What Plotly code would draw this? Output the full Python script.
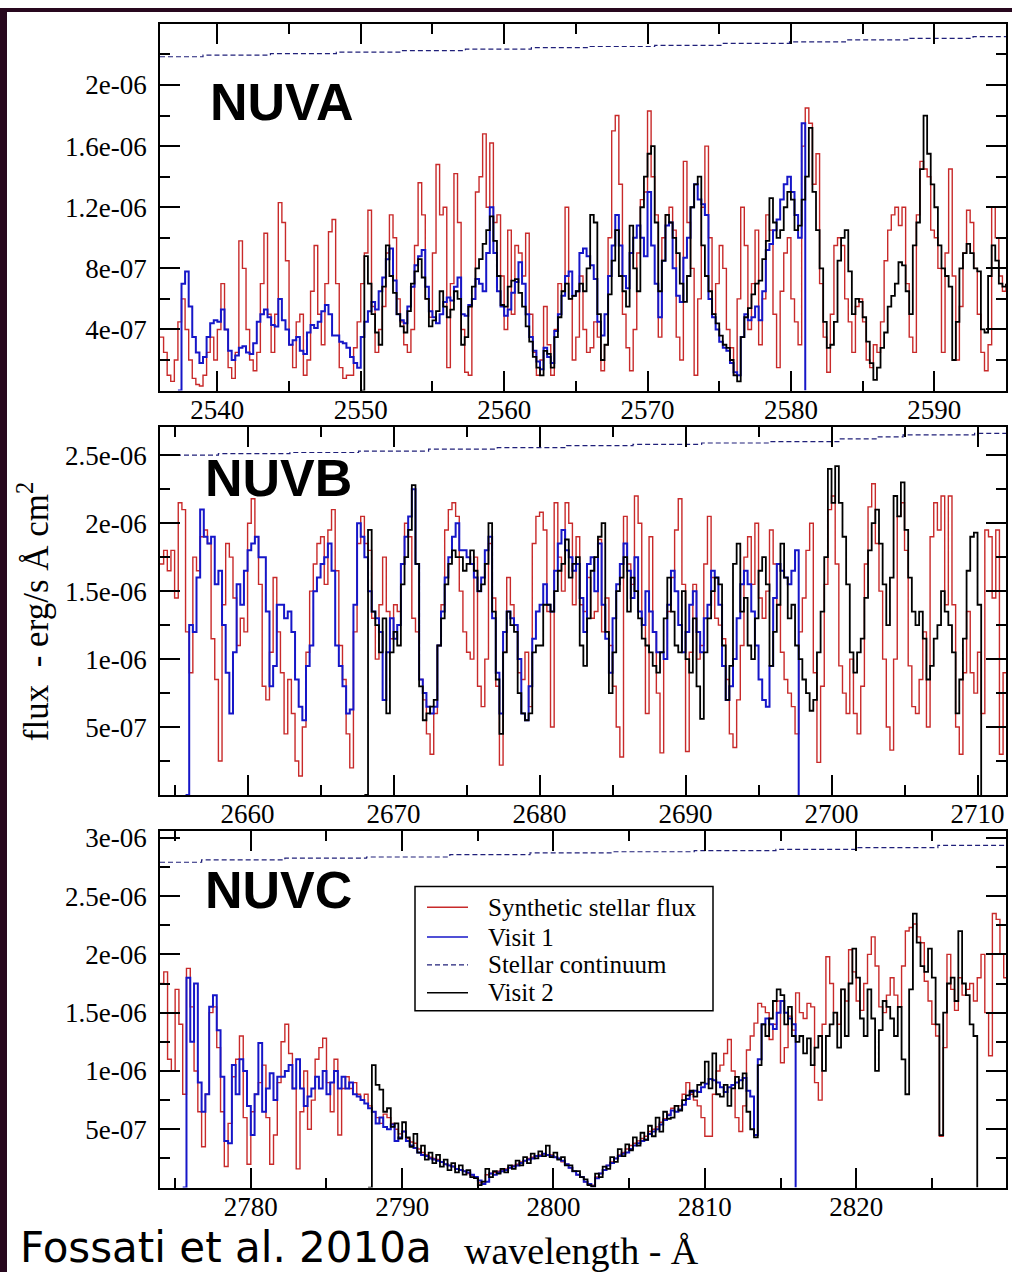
import plotly.graph_objects as go

W, H = 1012, 1272
FLUX_UNIT = 1e-7   # tabulated fluxes are in units of 1e-7 erg/s/A/cm2
STEP = 0.25        # wavelength bin of the tabulated spectra (A)

# ---------------- NUVA ----------------
NUVA_SYN_START = 2536.0
NUVA_SYN = [
    3.5, 2.5, 1.0, 0.6, 2.0, 4.5, 6.0, 4.0, 2.0, 0.8,
    0.4, 0.3, 1.0, 2.5, 3.5, 2.0, 4.0, 7.0, 4.0, 1.5,
    0.8, 2.5, 9.8, 8.0, 4.0, 2.0, 1.3, 2.5, 7.0, 10.3,
    5.0, 2.5, 5.0, 12.3, 11.0, 8.5, 3.0, 1.5, 4.5, 5.0,
    1.0, 2.0, 6.5, 9.5, 5.0, 3.0, 7.0, 10.4, 11.2, 7.0,
    1.5, 0.8, 1.0, 1.0, 2.8, 4.5, 7.0, 9.0, 11.8, 5.5,
    2.5, 4.0, 5.5, 9.0, 11.5, 10.0, 6.0, 4.5, 3.0, 2.5,
    4.0, 9.5, 13.6, 11.5, 6.0, 4.8, 9.0, 14.8, 11.5, 12.0,
    1.5, 7.0, 14.2, 11.0, 4.0, 1.2, 1.0, 6.0, 13.0, 14.0,
    16.8, 12.0, 16.2, 11.0, 11.5, 7.5, 4.0, 10.5, 5.0, 9.5,
    9.0, 7.5, 10.3, 5.0, 2.5, 1.0, 2.0, 5.5, 3.0, 1.0,
    4.0, 7.0, 6.5, 12.0, 6.0, 2.0, 3.5,
    7.5, 4.0, 2.5, 2.8, 4.5, 3.5, 1.3, 3.0, 10.0, 17.0,
    18.0, 13.5, 5.0, 2.8, 1.3, 4.0, 9.0, 12.5, 13.0, 18.3,
    14.0, 11.5, 3.5, 10.0, 11.5, 12.0, 10.5, 3.5, 2.0, 15.0,
    11.0, 8.0, 1.0, 6.0, 12.0, 16.0, 10.0, 5.0, 7.0, 9.5,
    8.0, 4.0, 2.8, 1.0, 6.0, 12.0, 9.5, 4.0, 7.0, 10.5,
    3.0, 6.0, 11.5, 10.5, 5.0, 1.5, 6.5, 9.0, 10.0, 6.0,
    4.5, 3.0, 16.0, 18.5, 17.5, 13.5, 15.5, 7.0, 3.5, 1.2,
    5.0, 9.5, 10.0, 9.5, 6.0, 4.5, 2.5, 5.5, 6.0, 4.5,
    2.0, 1.5, 3.0, 2.5, 4.5, 8.5, 10.5, 11.5, 12.0, 10.8,
    12.0, 7.0, 3.5, 2.5, 11.5, 15.0, 14.5, 14.0, 10.5, 10.0,
    8.0, 2.5, 9.0, 14.5, 7.5, 2.0, 5.5, 9.0, 11.8, 11.0,
    8.0, 5.0, 2.5, 1.3, 3.0, 12.0, 10.0, 7.5, 6.5, 7.0,
]
NUVA_V1_START = 2537.25
NUVA_V1 = [
    0.0, 7.0, 7.8, 5.5, 3.5, 2.5, 1.8, 2.2, 3.5, 4.4,
    4.6, 4.5, 5.3, 4.0, 2.6, 2.0, 2.3, 2.8, 2.9, 2.5,
    2.4, 3.1, 4.5, 5.0, 5.3, 4.8, 4.3, 4.2, 6.0, 4.6,
    4.0, 3.0, 3.3, 3.5, 2.6, 2.4, 3.8, 4.3, 4.1, 4.5,
    5.2, 5.6, 5.0, 3.6, 3.6, 3.2, 3.1, 2.8, 2.2, 1.8,
    1.5, 3.5, 4.5, 5.2, 5.8, 5.3, 6.5, 7.4, 8.6, 9.3,
    7.2, 5.0, 4.6, 4.4, 5.5, 6.8, 8.2, 8.8, 9.2, 6.8,
    5.2, 4.8, 4.4, 5.0, 5.8, 6.1, 5.9, 6.8, 7.4, 5.0,
    4.9, 5.6, 6.0, 7.3, 7.0, 6.5, 9.0, 12.0, 9.0, 6.5,
    5.5, 4.9, 5.3, 6.4, 7.1, 8.4, 7.0, 5.0, 3.5, 2.6,
    1.9, 1.4, 2.8, 2.2, 1.8, 3.9, 5.0, 6.2, 7.5, 7.8,
    6.2, 6.5,
    9.0, 9.3, 8.8, 8.2, 7.3, 4.5, 3.6, 5.0, 7.5, 9.5,
    11.5, 9.5, 7.5, 6.7, 9.0, 10.0, 10.8, 10.0, 8.8, 13.0,
    9.5, 7.0, 4.8, 8.5, 10.8, 11.0, 8.0, 6.2, 5.8, 8.7,
    10.0, 12.0, 13.5, 12.5, 12.2, 11.5, 6.0, 4.8, 4.0, 3.2,
    2.8, 2.6, 1.8, 1.2, 1.0, 3.5, 5.0, 4.6, 4.8, 5.5,
    4.6, 6.5, 9.2, 9.6, 10.5, 11.2, 12.5, 13.5, 14.0, 13.0,
    11.5, 10.0, 17.5, 0.0,
]
NUVA_V2_START = 2550.0
NUVA_V2 = [
    0.0, 8.8, 7.0, 5.0, 3.8, 3.0, 6.8, 9.5, 7.5, 6.4,
    5.0, 4.2, 3.8, 5.2, 7.0, 7.8, 8.6, 7.4, 6.0, 4.2,
    4.6, 5.2, 6.5, 5.5, 4.8, 5.3, 6.5, 6.0, 3.0, 3.5,
    5.5, 6.8, 8.0, 8.6, 9.6, 10.5, 11.4, 9.8, 7.5, 5.6,
    5.5, 6.8, 7.2, 7.3, 6.4, 5.5, 4.2, 3.2, 2.2, 1.5,
    1.0, 2.6, 2.4, 1.5, 3.5, 4.8, 6.5, 7.0, 6.0, 6.2,
    6.5,
    7.0, 6.5, 8.0, 11.5, 11.0, 5.0, 2.0, 3.0, 6.3, 8.5,
    10.5, 7.5, 6.5, 5.5, 10.8, 8.0, 6.5, 12.0, 14.0, 15.5,
    16.0, 11.0, 6.5, 8.5, 11.5, 11.0, 10.0, 9.0, 7.0, 5.8,
    7.5, 12.0, 13.5, 14.0, 9.5, 7.5, 6.5, 5.0, 4.4, 3.6,
    3.0, 2.8, 2.0, 1.0, 0.6, 3.5, 4.8, 5.4, 6.3, 7.0,
    7.2, 8.6, 9.8, 12.6, 11.0, 10.0, 10.5, 12.0, 13.0, 12.5,
    10.5, 10.8, 12.5, 14.0, 17.2, 13.0, 10.5, 8.0, 4.5, 2.8,
    3.0, 4.5, 8.5, 10.0, 10.5, 7.8, 5.0, 6.0, 5.8, 4.8,
    3.2, 1.8, 0.7, 1.5, 2.8, 3.8, 5.5, 6.2, 7.0, 8.4,
    8.2, 6.5, 5.0, 9.5, 11.0, 14.5, 18.0, 15.5, 13.5, 12.0,
    9.5, 8.0, 7.5, 6.8, 2.0, 4.5, 8.0, 9.0, 9.6, 9.0,
    8.0, 7.8, 4.0, 3.8, 7.5, 9.5, 8.5, 7.0, 6.8, 7.0,
]
NUVA_CONT_WAVE = [2536.0, 2539.0, 2543.7, 2548.3, 2552.8, 2557.3, 2561.9, 2566.0,
                  2570.5, 2575.2, 2579.9, 2583.8, 2588.3, 2592.7, 2595.0]
NUVA_CONT = [21.85, 21.95, 22.05, 22.15, 22.25, 22.35, 22.45, 22.52,
             22.6, 22.72, 22.82, 22.95, 23.05, 23.17, 23.17]

# ---------------- NUVB ----------------
NUVB_SYN_START = 2654.0
NUVB_SYN = [
    17.0, 18.0, 16.5, 18.0, 14.5, 21.5, 21.0, 12.0, 9.0, 17.5,
    16.5, 19.0, 19.5, 18.5, 11.5, 8.5, 2.5, 14.0, 18.5, 17.5,
    14.5, 11.0, 13.0, 12.0, 20.0, 21.8, 19.0, 15.5, 8.0, 7.0,
    10.5, 16.0, 12.0, 9.0, 4.5, 8.5, 6.0, 2.5, 1.4, 5.0,
    10.5, 15.0, 17.0, 18.5, 19.0, 15.5, 19.5, 21.0, 16.5, 11.0,
    8.5, 4.5, 2.0, 12.0, 18.5, 20.5, 18.5, 18.0, 13.0, 10.0,
    14.0, 17.5, 13.5, 11.5, 14.0, 13.5, 17.0, 20.0, 19.0, 13.0,
    12.0, 8.5, 7.0, 4.5, 3.0, 6.0, 11.0, 14.0, 19.5, 21.0,
    21.5, 20.5, 15.0, 12.0, 10.5, 10.0, 17.5, 8.0, 6.5, 10.0,
    18.5, 14.5, 8.0, 2.2, 10.5, 16.0, 14.0, 12.5, 9.0, 8.5,
    10.5, 6.5, 18.5, 20.5, 20.8, 19.5, 13.5, 5.0, 21.5, 17.5,
    15.0, 21.5, 20.0, 14.0, 19.0,
    14.0, 13.5, 16.0, 13.0, 13.5, 18.8, 12.0, 14.5, 11.0, 8.0,
    5.0, 2.8, 20.5, 17.0, 15.5, 22.0, 20.0, 12.5, 6.0, 19.0,
    12.0, 7.5, 3.1, 10.0, 13.5, 16.0, 19.5, 21.8, 15.5, 3.2,
    10.5, 15.5, 10.0, 11.0, 17.0, 20.5, 16.0, 13.0, 12.5, 11.5,
    8.5, 4.5, 3.5, 7.0, 11.0, 17.5, 19.0, 15.5, 20.0, 14.5,
    13.0, 15.0, 19.5, 17.0, 14.0, 10.5, 8.5, 7.5, 6.5, 4.5,
    12.0, 14.5, 18.0, 20.0, 9.0, 2.4, 8.0, 15.5, 21.0, 22.0,
    17.0, 9.5, 7.5, 6.0, 10.0, 6.0, 4.5, 8.0, 17.0, 21.2,
    22.9, 18.5, 15.0, 10.0, 5.0, 3.3, 10.0, 20.5, 21.5, 18.0,
    9.5, 6.5, 6.0, 8.5, 12.0, 5.0, 19.0, 21.5, 19.5, 22.0,
    14.0, 22.0, 14.0, 5.0, 3.0, 9.0, 13.5, 9.0, 7.5, 10.5,
    6.0, 19.5, 19.0, 14.5, 19.5, 3.0, 9.0, 11.0,
]
NUVB_V1_START = 2655.75
NUVB_V1 = [
    0.0, 12.5, 12.0, 16.0, 21.0, 19.0, 18.5, 19.0, 15.5, 16.5,
    12.5, 9.0, 6.0, 10.5, 15.5, 14.0, 16.5, 18.0, 18.5, 19.0,
    17.5, 17.5, 13.5, 8.0, 9.5, 14.0, 14.0, 13.0, 13.5, 12.0,
    8.5, 6.5, 5.5, 9.5, 11.0, 15.0, 16.0, 17.0, 17.5, 18.5,
    16.5, 11.0, 9.5, 8.0, 6.0, 6.3, 14.0, 20.0, 19.0, 17.5,
    15.0, 13.5, 13.0, 12.0, 7.0, 10.5, 13.0, 11.5, 12.5, 17.0,
    19.0, 20.5, 22.5, 17.0, 8.5, 7.5, 6.5, 6.0, 6.5, 11.0,
    13.5, 16.0, 17.5, 19.0, 20.0, 18.0, 18.0, 17.5, 17.0, 16.0,
    15.0, 16.0, 18.0, 19.0, 13.0, 9.0, 6.0, 12.0, 13.5, 13.0,
    12.5, 10.0, 6.0, 5.5, 8.0, 11.5, 13.5, 14.0, 15.5, 14.0,
    13.5, 16.5, 18.5, 19.5, 18.0, 17.5, 16.5, 17.0,
    14.5, 12.0, 17.0, 17.5, 15.0, 18.5, 14.0, 11.5, 9.0, 13.0,
    15.5, 17.0, 18.5, 16.5, 14.5, 17.5, 13.5, 12.5, 15.0, 13.5,
    12.0, 10.5, 10.5, 10.0, 14.0, 16.5, 15.0, 12.5, 10.5, 12.0,
    14.0, 15.0, 12.0, 10.5, 13.0, 14.0, 16.5, 16.0, 14.0, 9.5,
    7.0, 8.0, 10.0, 13.0, 15.5, 16.5, 15.5, 13.5, 11.0, 8.5,
    7.0, 6.5, 9.5, 14.5, 17.0, 16.5, 16.0, 15.5, 16.5, 18.0,
    0.0,
]
NUVB_V2_START = 2668.0
NUVB_V2 = [
    0.0, 19.5, 13.5, 12.5, 10.5, 13.0, 6.0, 10.5, 12.0, 11.0,
    15.5, 17.5, 19.5, 22.8, 17.0, 8.0, 5.5, 6.0, 6.5, 7.0,
    11.0, 13.0, 15.5, 17.0, 18.0, 17.5, 17.5, 16.5, 17.0, 18.0,
    16.5, 15.0, 15.5, 17.0, 20.0, 13.5, 8.5, 4.5, 10.5, 13.5,
    12.5, 12.0, 7.5, 6.0, 5.5, 6.0, 10.5, 11.0, 11.0, 14.0,
    14.0, 13.5, 15.0, 16.5, 17.0, 18.8, 16.0, 17.0, 17.5,
    11.0, 9.5, 13.0, 16.5, 17.5, 19.0, 20.0, 12.0, 7.5, 10.5,
    15.0, 16.0, 17.5, 13.5, 16.0, 15.0, 13.0, 11.5, 11.0, 10.5,
    9.5, 9.0, 10.5, 13.0, 16.0, 13.5, 11.0, 10.5, 15.0, 10.0,
    9.0, 13.0, 8.0, 5.6, 10.5, 13.0, 15.0, 16.0, 15.5, 11.0,
    7.0, 9.5, 17.0, 18.5, 13.5, 14.5, 11.0, 10.0, 13.0, 16.5,
    17.5, 15.5, 9.5, 12.0, 14.0, 18.5, 16.0, 13.0, 14.0, 11.0,
    10.0, 8.5, 7.5, 6.2, 7.0, 10.5, 13.5, 17.5, 24.0, 21.5,
    24.2, 21.5, 19.0, 15.5, 10.5, 9.0, 10.5, 11.5, 14.5, 18.0,
    20.0, 21.0, 18.5, 15.5, 12.5, 16.0, 22.0, 20.5, 23.0, 19.5,
    16.0, 13.5, 12.5, 13.5, 11.5, 8.5, 9.5, 11.5, 12.5, 15.0,
    13.5, 12.5, 10.5, 6.0, 8.5, 11.5, 16.5, 19.0, 19.3, 14.0,
    0.0,
]
NUVB_CONT_WAVE = [2654.0, 2658.0, 2662.9, 2667.6, 2672.4, 2677.1, 2681.85, 2686.4,
                  2691.1, 2695.8, 2700.5, 2703.1, 2704.9, 2709.8, 2712.0]
NUVB_CONT = [25.0, 25.12, 25.2, 25.3, 25.45, 25.56, 25.7, 25.8,
             25.9, 26.0, 26.2, 26.35, 26.5, 26.6, 26.6]

# ---------------- NUVC ----------------
NUVC_SYN_START = 2774.0
NUVC_SYN = [
    17.5, 18.5, 11.0, 10.0, 17.0, 14.0, 8.0, 18.8, 15.5, 10.0,
    6.5, 3.5, 8.0, 15.0, 15.5, 12.0, 6.5, 1.8, 5.5, 9.5,
    11.0, 13.0, 6.0, 2.0, 6.5, 8.0, 9.0, 10.5, 6.0, 2.0,
    4.5, 9.0, 12.5, 14.0, 11.5, 8.5, 1.6, 6.5, 10.0, 5.0,
    7.5, 11.0, 12.0, 12.8, 9.0, 6.5, 11.0, 4.5, 8.5, 9.5,
    8.5, 9.0, 8.0, 7.5, 8.0, 7.0, 6.5, 6.0, 5.5,
    6.3,
    6.0, 5.5, 5.0, 4.6, 4.8, 4.2, 3.9, 3.8,
    3.3, 3.0, 2.8, 2.6, 2.5, 2.4, 2.2, 2.0,
    1.9, 1.8, 1.6, 1.5, 1.4, 1.2, 1.0, 0.8,
    0.4, 0.5, 1.1, 1.2, 1.3, 1.4, 1.5, 1.6,
    1.7, 1.9, 2.0, 2.2, 2.3, 2.5, 2.6, 2.7,
    2.8, 2.9, 2.8, 2.8, 2.6, 2.5, 2.2, 2.0,
    1.7, 1.4, 1.1, 0.9, 0.5, 0.3, 0.2, 0.9,
    1.2, 1.5, 1.9, 2.2, 2.5, 2.8, 3.0, 3.3,
    3.6, 3.8, 4.0, 4.2, 4.4, 4.8, 5.0, 5.2,
    5.6, 5.9, 6.3, 6.8, 7.0, 7.0, 8.0, 9.0,
    8.0, 7.5, 7.0, 6.0, 4.4, 4.4, 8.0, 10.0,
    10.5, 11.5, 12.7, 10.0, 6.0, 4.8, 7.0, 11.8,
    13.0, 14.1, 15.8, 15.5, 15.0, 12.7, 14.0, 16.0,
    10.7, 12.0, 14.7, 13.5, 16.7, 15.0, 14.5, 15.8,
    15.5, 9.0, 7.5, 14.0, 19.8, 17.5, 15.0, 14.0,
    17.0, 16.0, 20.4, 18.5, 16.0, 15.2, 17.5, 20.0,
    21.5, 19.0, 15.5, 15.0, 16.5, 18.0, 16.5, 15.5,
    19.0, 22.0, 22.3, 22.6, 21.5, 21.0, 17.7, 16.0,
    14.0, 13.0, 4.4, 12.0, 20.0, 17.0, 15.2, 18.0,
    16.5, 17.0, 17.5, 16.0, 18.0, 20.0, 15.0, 11.3,
    23.5, 23.0, 20.0, 18.0, 17.5,
]
NUVC_V1_START = 2775.5
NUVC_V1 = [
    0.0, 18.0, 12.5, 17.5, 9.0, 6.5, 8.0, 15.5, 16.5, 13.5,
    9.5, 4.0, 3.8, 10.5, 8.0, 11.0, 10.0, 7.0, 4.5, 8.0,
    12.4, 6.5, 8.5, 9.8, 7.5, 9.5, 9.5, 10.0, 10.5, 8.5,
    11.0, 8.5, 7.0, 7.8, 8.5, 9.5, 8.5, 10.0, 8.0, 9.0,
    10.0, 8.5, 9.5, 8.5, 9.0, 8.0, 7.8, 7.5, 7.2, 6.8,
    6.5, 5.5, 6.0, 5.2, 5.0, 5.4, 4.0, 4.3, 4.8, 4.0,
    3.6, 3.4, 3.0, 2.8, 2.7, 2.5, 2.4, 2.3, 2.2, 2.0,
    1.9, 1.8, 1.6, 1.5, 1.4, 1.3, 1.1, 0.9, 0.6, 0.3,
    0.5, 1.2, 1.1, 1.3, 1.4, 1.5, 1.7, 1.8, 1.9, 2.1,
    2.3, 2.4, 2.5, 2.7, 2.7, 2.9, 2.8, 2.7, 2.6, 2.5,
    2.3, 2.0, 1.7, 1.4, 1.1, 0.9,
    0.5, 0.3, 0.1, 0.8, 1.2, 1.5, 1.9, 2.1, 2.5, 2.7,
    2.9, 3.0, 3.3, 3.6, 3.8, 4.0, 4.1, 4.6, 4.8, 5.0,
    5.4, 5.8, 6.2, 6.6, 6.5, 6.7, 7.1, 7.6, 8.2, 8.3,
    8.2, 8.6, 8.9, 9.3, 9.2, 9.0, 8.6, 8.2, 8.6, 8.8,
    9.0, 9.2, 9.4, 8.3, 7.8, 4.5, 11.0, 14.0, 14.5, 14.0,
    13.6, 15.0, 16.0, 15.0, 14.5, 14.0, 0.0,
]
NUVC_V2_START = 2787.75
NUVC_V2 = [
    0.0, 10.5, 8.8, 8.4, 6.5, 6.8, 5.2, 5.5, 4.2, 5.6,
    4.3, 3.5, 4.6, 3.0, 3.6, 2.4, 3.0, 2.1, 2.8, 1.8,
    2.4, 1.5, 2.1, 1.3, 1.9, 1.1, 1.5, 0.9, 0.8, 0.2,
    0.5, 1.6, 0.9, 1.4, 1.2, 1.6, 1.3, 1.9, 1.6, 2.3,
    1.9, 2.6, 2.1, 2.9, 2.5, 3.1, 2.7, 3.6, 2.6, 3.0,
    2.4, 2.6, 1.9, 1.9, 1.4, 1.4, 0.9, 0.7, 0.2, 0.1,
    1.2, 0.9, 1.8, 1.6, 2.6, 2.2, 3.3, 2.7, 3.7, 3.2,
    4.3, 3.6, 4.7, 4.1, 5.3, 4.4, 6.0, 4.8, 6.5, 5.9,
    6.0, 7.0, 6.6, 7.5, 7.9, 8.3, 7.8, 8.8, 9.0, 10.8,
    8.5, 11.5, 8.0, 7.8, 8.8, 7.0, 8.5, 9.5, 8.5, 9.8,
    6.5, 5.0, 4.3, 10.5, 14.0, 13.0, 14.5, 16.0, 17.0, 16.5,
    14.0, 15.5, 13.0, 12.5, 13.0, 11.5, 12.8, 10.5, 12.0, 13.0,
    10.0, 13.0, 14.0, 15.0, 12.0, 17.0, 13.0, 17.5, 20.5, 18.0,
    14.5, 13.0, 17.0, 14.5, 10.0, 13.5, 16.0, 15.5, 14.5, 13.0,
    15.5, 11.0, 8.0, 17.0, 23.5, 21.0, 19.0, 18.5, 20.5, 18.0,
    14.0, 4.5, 15.0, 17.5, 18.0, 16.0, 22.0, 17.5, 16.5, 14.0,
    13.0, 0.0,
]
NUVC_CONT_WAVE = [2774.0, 2776.75, 2782.25, 2787.65, 2793.15, 2798.45, 2803.8,
                  2809.3, 2814.7, 2820.0, 2825.4, 2830.0]
NUVC_CONT = [27.9, 28.1, 28.25, 28.35, 28.55, 28.7, 28.8,
             28.9, 29.0, 29.15, 29.35, 29.35]

# ---------------- axes ----------------
NUVA_XRANGE = [2536.0, 2595.0]
NUVB_XRANGE = [2654.0, 2711.95]
NUVC_XRANGE = [2774.0, 2829.9]
NUVA_YRANGE = [0, 2.4e-06]
NUVB_YRANGE = [0, 2.705e-06]
NUVC_YRANGE = [0, 3.06e-06]

NUVA_XTICKS = [2540, 2550, 2560, 2570, 2580, 2590]
NUVB_XTICKS = [2660, 2670, 2680, 2690, 2700, 2710]
NUVC_XTICKS = [2780, 2790, 2800, 2810, 2820]
NUVA_YTICKS = [4e-07, 8e-07, 1.2e-06, 1.6e-06, 2e-06]
NUVA_YTICK_TEXT = ["4e-07", "8e-07", "1.2e-06", "1.6e-06", "2e-06"]
NUVB_YTICKS = [5e-07, 1e-06, 1.5e-06, 2e-06, 2.5e-06]
NUVB_YTICK_TEXT = ["5e-07", "1e-06", "1.5e-06", "2e-06", "2.5e-06"]
NUVC_YTICKS = [5e-07, 1e-06, 1.5e-06, 2e-06, 2.5e-06, 3e-06]
NUVC_YTICK_TEXT = ["5e-07", "1e-06", "1.5e-06", "2e-06", "2.5e-06", "3e-06"]

LEGEND_NAMES = ["Synthetic stellar flux", "Visit 1", "Stellar continuum", "Visit 2"]
BAND_LABELS = ["NUVA", "NUVB", "NUVC"]

RED = "#c82a2a"
BLUE = "#1616c8"
NAVY = "#20207a"
BLACK = "#000000"
SERIF = "Liberation Serif"
CONT_DASH = "5px,3px"

STYLES = [
    dict(color=RED, width=1.4),
    dict(color=BLUE, width=2.0),
    dict(color=NAVY, width=1.2, dash=CONT_DASH),
    dict(color=BLACK, width=1.8),
]


def wave_grid(start, values):
    return [start + STEP * i for i in range(len(values))]


def flux(values):
    return [v * FLUX_UNIT for v in values]


def px_x(p):
    return p / W


def px_y(p):
    return 1 - p / H


fig = go.Figure()

panels = [
    ("x", "y", NUVA_SYN_START, NUVA_SYN, NUVA_V1_START, NUVA_V1,
     NUVA_V2_START, NUVA_V2, NUVA_CONT_WAVE, NUVA_CONT),
    ("x2", "y2", NUVB_SYN_START, NUVB_SYN, NUVB_V1_START, NUVB_V1,
     NUVB_V2_START, NUVB_V2, NUVB_CONT_WAVE, NUVB_CONT),
    ("x3", "y3", NUVC_SYN_START, NUVC_SYN, NUVC_V1_START, NUVC_V1,
     NUVC_V2_START, NUVC_V2, NUVC_CONT_WAVE, NUVC_CONT),
]

for k, (xa, ya, s0, syn, v10, v1, v20, v2, cw, cf) in enumerate(panels):
    series = [
        (wave_grid(s0, syn), flux(syn)),
        (wave_grid(v10, v1), flux(v1)),
        (cw, flux(cf)),
        (wave_grid(v20, v2), flux(v2)),
    ]
    for (xs, ys), name, st in zip(series, LEGEND_NAMES, STYLES):
        fig.add_trace(go.Scatter(x=xs, y=ys, mode="lines", name=name,
                                 line=dict(st, shape="hv"), showlegend=False,
                                 xaxis=xa, yaxis=ya))

tick_font = dict(family=SERIF, size=27, color="black")
common = dict(showline=True, linecolor="black", linewidth=1.5, mirror="ticks",
              ticks="inside", ticklen=20, tickwidth=1.5, tickcolor="black",
              showgrid=False, zeroline=False, tickfont=tick_font)

x_dom = [px_x(160), px_x(1006)]
y_doms = [[px_y(385), px_y(16)], [px_y(792), px_y(422)], [px_y(1187), px_y(828)]]
xranges = [NUVA_XRANGE, NUVB_XRANGE, NUVC_XRANGE]
yranges = [NUVA_YRANGE, NUVB_YRANGE, NUVC_YRANGE]
xticks = [NUVA_XTICKS, NUVB_XTICKS, NUVC_XTICKS]
yticks = [(NUVA_YTICKS, NUVA_YTICK_TEXT, 2e-07),
          (NUVB_YTICKS, NUVB_YTICK_TEXT, 2.5e-07),
          (NUVC_YTICKS, NUVC_YTICK_TEXT, 2.5e-07)]

layout_axes = {}
for k in range(3):
    sx = "" if k == 0 else str(k + 1)
    layout_axes["xaxis" + sx] = dict(
        common, domain=x_dom, range=xranges[k], anchor="y" + sx,
        tickmode="array", tickvals=xticks[k], ticktext=[str(t) for t in xticks[k]],
        ticklabelstandoff=-6,
        minor=dict(ticks="inside", ticklen=10, tickwidth=1.5, tickcolor="black",
                   tick0=0, dtick=5, showgrid=False))
    tv, tt, mdt = yticks[k]
    layout_axes["yaxis" + sx] = dict(
        common, domain=y_doms[k], range=yranges[k], anchor="x" + sx,
        tickmode="array", tickvals=tv, ticktext=tt, ticklabelstandoff=6,
        minor=dict(ticks="inside", ticklen=10, tickwidth=1.5, tickcolor="black",
                   tick0=0, dtick=mdt, showgrid=False))

annotations = []
label_pos = [(208, 95), (203, 473), (203, 888)]
for name, (lx, ly) in zip(BAND_LABELS, label_pos):
    annotations.append(dict(text="<b>" + name + "</b>", x=px_x(lx), y=px_y(ly),
                            xref="paper", yref="paper", xanchor="left", yanchor="middle",
                            showarrow=False,
                            font=dict(family="Liberation Sans", size=52, color="black")))

annotations.append(dict(text="flux\u00a0\u00a0-\u00a0erg/s\u00a0\u00c5\u00a0cm<sup>2</sup>",
                        x=px_x(33), y=px_y(608), xref="paper", yref="paper",
                        xanchor="center", yanchor="middle", textangle=-90, showarrow=False,
                        font=dict(family=SERIF, size=35, color="black")))
annotations.append(dict(text="wavelength - \u00c5", x=px_x(462), y=px_y(1251),
                        xref="paper", yref="paper", xanchor="left", yanchor="middle",
                        showarrow=False, font=dict(family=SERIF, size=38, color="black")))
annotations.append(dict(text="Fossati et al. 2010a", x=px_x(18), y=px_y(1247),
                        xref="paper", yref="paper", xanchor="left", yanchor="middle",
                        showarrow=False, font=dict(family="DejaVu Sans", size=42, color="black")))

shapes = [
    dict(type="rect", xref="paper", yref="paper", x0=0, x1=px_x(7), y0=0, y1=1,
         fillcolor="#28081e", line=dict(width=0), layer="above"),
    dict(type="rect", xref="paper", yref="paper", x0=0, x1=1, y0=px_y(4), y1=1,
         fillcolor="#28081e", line=dict(width=0), layer="above"),
]

# legend box inside the NUVC panel
LEG_BOX = (415, 884, 713, 1009)
LEG_ROWS = [905, 935, 963, 991]
shapes.append(dict(type="rect", xref="paper", yref="paper",
                   x0=px_x(LEG_BOX[0]), x1=px_x(LEG_BOX[2]),
                   y0=px_y(LEG_BOX[3]), y1=px_y(LEG_BOX[1]),
                   fillcolor="white", line=dict(color="black", width=1.5), layer="above"))
for name, st, ry in zip(LEGEND_NAMES, STYLES, LEG_ROWS):
    shapes.append(dict(type="line", xref="paper", yref="paper",
                       x0=px_x(427), x1=px_x(468), y0=px_y(ry), y1=px_y(ry),
                       line=dict(color=st["color"], width=min(st["width"], 1.5),
                                 dash=st.get("dash", "solid")),
                       layer="above"))
    annotations.append(dict(text=name, x=px_x(486), y=px_y(ry), xref="paper", yref="paper",
                            xanchor="left", yanchor="middle", showarrow=False,
                            font=dict(family=SERIF, size=25, color="black")))

fig.update_layout(
    width=W, height=H, autosize=False,
    margin=dict(l=0, r=0, t=0, b=0),
    paper_bgcolor="white", plot_bgcolor="white",
    showlegend=False,
    annotations=annotations, shapes=shapes,
    **layout_axes,
)

fig.write_html("out.html")
